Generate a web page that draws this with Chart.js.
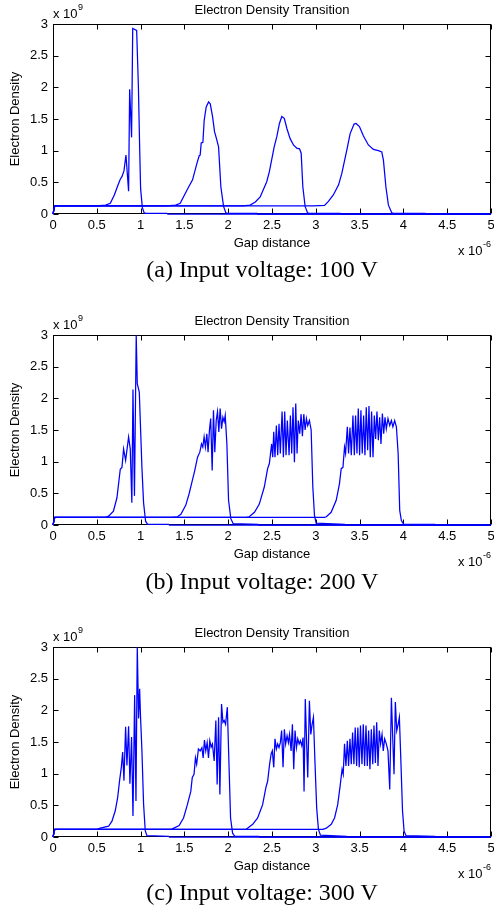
<!DOCTYPE html>
<html>
<head>
<meta charset="utf-8">
<script src="https://cdn.jsdelivr.net/npm/chart.js@4"></script>
<style>
  html, body { margin: 0; padding: 0; background: #fff; }
  body { width: 494px; height: 908px; position: relative; overflow: hidden; }
  .panel { position: absolute; left: 0; width: 494px; height: 260px; }
  .cap { position: absolute; left: 262px; transform: translateX(-50%); white-space: nowrap;
         font-family: "Liberation Serif", "Times New Roman", serif; font-size: 24px; line-height: 26px; color: #000; }
</style>
</head>
<body>
<div class="panel" style="top:0px"><canvas id="c1" width="494" height="260"></canvas></div>
<div class="cap" style="top:256px">(a) Input voltage: 100 V</div>
<div class="panel" style="top:311px"><canvas id="c2" width="494" height="260"></canvas></div>
<div class="cap" style="top:568px">(b) Input voltage: 200 V</div>
<div class="panel" style="top:623px"><canvas id="c3" width="494" height="260"></canvas></div>
<div class="cap" style="top:879px">(c) Input voltage: 300 V</div>
<script>
// ---- axis ticks (x in units of 1e-6, y in units of 1e9) ----
const xTicks = [0, 0.5, 1, 1.5, 2, 2.5, 3, 3.5, 4, 4.5, 5];
const yTicks = [0, 0.5, 1, 1.5, 2, 2.5, 3];
const chartTitle = "Electron Density Transition";
const xTitle = "Gap distance";
const yTitle = "Electron Density";

// ---- 100 V ----
const v100_1x = [0, 0.02, 0.5, 0.6, 0.654, 0.7, 0.74, 0.768, 0.787, 0.81, 0.833, 0.863, 0.875, 0.897, 0.91, 0.955, 0.975, 0.99, 1.0, 1.02, 1.04, 1.06, 1.3, 1.31, 5];
const v100_1y = [0, 0.13, 0.13, 0.14, 0.17, 0.3, 0.45, 0.55, 0.59, 0.68, 0.93, 0.36, 1.97, 1.21, 2.93, 2.9, 2.0, 1.0, 0.4, 0.1, 0.02, 0.01, 0.01, 0, 0];
const v100_2x = [0, 0.02, 1.3, 1.4, 1.452, 1.53, 1.593, 1.643, 1.669, 1.68, 1.692, 1.711, 1.726, 1.749, 1.776, 1.795, 1.821, 1.844, 1.87, 1.89, 1.916, 1.947, 1.973, 1.99, 2.33, 2.34, 5];
const v100_2y = [0, 0.13, 0.13, 0.14, 0.17, 0.38, 0.54, 0.8, 0.92, 0.93, 1.12, 1.13, 1.48, 1.69, 1.77, 1.74, 1.54, 1.3, 1.17, 1.06, 0.43, 0.12, 0.02, 0.01, 0.01, 0, 0];
const v100_3x = [0, 0.02, 2.17, 2.25, 2.31, 2.365, 2.44, 2.47, 2.525, 2.555, 2.585, 2.612, 2.64, 2.67, 2.707, 2.745, 2.783, 2.814, 2.833, 2.852, 2.878, 2.905, 2.93, 3.28, 3.29, 5];
const v100_3y = [0, 0.13, 0.13, 0.14, 0.19, 0.27, 0.51, 0.67, 1.06, 1.22, 1.43, 1.54, 1.51, 1.35, 1.19, 1.09, 1.04, 1.03, 0.96, 0.43, 0.12, 0.02, 0.01, 0.01, 0, 0];
const v100_4x = [0, 0.02, 2.97, 3.1, 3.144, 3.2, 3.26, 3.297, 3.354, 3.392, 3.437, 3.46, 3.498, 3.544, 3.6, 3.658, 3.715, 3.753, 3.772, 3.8, 3.829, 3.867, 3.89, 4.25, 4.26, 5];
const v100_4y = [0, 0.13, 0.13, 0.135, 0.2, 0.3, 0.46, 0.64, 1.01, 1.27, 1.42, 1.43, 1.38, 1.23, 1.09, 1.02, 1.0, 0.98, 0.85, 0.43, 0.14, 0.02, 0.01, 0.01, 0, 0];

// ---- 200 V ----
const v200_1x = [0, 0.02, 0.6, 0.635, 0.69, 0.73, 0.768, 0.787, 0.806, 0.829, 0.863, 0.882, 0.9, 0.913, 0.93, 0.95, 0.962, 0.985, 1.015, 1.034, 1.057, 1.08, 1.32, 1.33, 5];
const v200_1y = [0, 0.12, 0.12, 0.14, 0.22, 0.43, 0.88, 0.91, 1.2, 1.02, 1.39, 1.2, 0.35, 2.14, 0.46, 3.0, 2.23, 2.1, 0.91, 0.35, 0.06, 0.01, 0.01, 0, 0];
const v200_2x = [0, 0.02, 1.35, 1.42, 1.46, 1.515, 1.553, 1.59, 1.618, 1.65, 1.676, 1.695, 1.71, 1.725, 1.74, 1.756, 1.77, 1.786, 1.8, 1.817, 1.832, 1.847, 1.863, 1.878, 1.893, 1.908, 1.924, 1.939, 1.954, 1.966, 1.985, 2.004, 2.03, 2.057, 2.34, 2.35, 5];
const v200_2y = [0, 0.12, 0.12, 0.13, 0.17, 0.31, 0.49, 0.7, 0.86, 1.07, 1.15, 1.28, 1.23, 1.39, 1.23, 1.44, 1.15, 1.5, 1.68, 0.86, 1.81, 1.15, 1.65, 1.79, 1.47, 1.84, 1.52, 1.7, 1.63, 1.73, 1.28, 0.39, 0.1, 0.02, 0.01, 0, 0];
const v200_3x = [0, 0.02, 2.2, 2.24, 2.3, 2.355, 2.412, 2.45, 2.47, 2.496, 2.508, 2.52, 2.534, 2.55, 2.565, 2.58, 2.595, 2.615, 2.63, 2.645, 2.66, 2.675, 2.695, 2.71, 2.725, 2.74, 2.756, 2.771, 2.786, 2.8, 2.817, 2.832, 2.847, 2.863, 2.878, 2.893, 2.908, 2.927, 2.947, 2.966, 2.985, 3.004, 3.33, 3.34, 5];
const v200_3y = [0, 0.12, 0.12, 0.13, 0.2, 0.33, 0.6, 0.89, 0.97, 1.28, 1.07, 1.47, 1.07, 1.57, 1.1, 1.6, 1.13, 1.79, 1.07, 1.79, 1.1, 1.65, 1.1, 1.73, 1.13, 1.86, 0.99, 1.92, 1.13, 1.65, 1.44, 1.75, 1.4, 1.75, 1.5, 1.68, 1.57, 1.65, 1.5, 0.6, 0.15, 0.03, 0.01, 0, 0];
const v200_4x = [0, 0.02, 3.1, 3.12, 3.175, 3.233, 3.27, 3.29, 3.31, 3.328, 3.34, 3.36, 3.374, 3.39, 3.405, 3.424, 3.44, 3.454, 3.47, 3.485, 3.5, 3.515, 3.53, 3.546, 3.561, 3.576, 3.592, 3.607, 3.622, 3.637, 3.653, 3.668, 3.683, 3.698, 3.714, 3.729, 3.744, 3.76, 3.775, 3.79, 3.805, 3.824, 3.844, 3.863, 3.88, 3.9, 3.92, 3.94, 3.958, 3.977, 4.004, 4.36, 4.37, 5];
const v200_4y = [0, 0.12, 0.12, 0.13, 0.2, 0.39, 0.65, 0.89, 0.91, 1.23, 1.13, 1.55, 1.13, 1.54, 1.1, 1.73, 1.1, 1.73, 1.13, 1.84, 1.1, 1.81, 1.13, 1.73, 1.1, 1.86, 1.18, 1.88, 1.07, 1.79, 1.07, 1.73, 1.36, 1.79, 1.34, 1.7, 1.28, 1.76, 1.44, 1.7, 1.52, 1.68, 1.57, 1.65, 1.55, 1.65, 1.55, 1.13, 0.23, 0.07, 0.01, 0.01, 0, 0];

// ---- 300 V ----
const v300_1x = [0, 0.02, 0.5, 0.54, 0.635, 0.673, 0.71, 0.738, 0.76, 0.78, 0.795, 0.81, 0.829, 0.844, 0.863, 0.878, 0.897, 0.913, 0.932, 0.947, 0.962, 0.977, 0.989, 1.0, 1.015, 1.034, 1.053, 1.072, 1.32, 1.33, 5];
const v300_1y = [0, 0.12, 0.12, 0.14, 0.17, 0.25, 0.41, 0.62, 0.89, 1.1, 1.34, 0.89, 1.74, 1.13, 1.75, 0.84, 1.58, 0.33, 2.24, 0.57, 3.0, 1.87, 2.34, 1.87, 1.37, 0.52, 0.1, 0.02, 0.01, 0, 0];
const v300_2x = [0, 0.02, 1.35, 1.38, 1.44, 1.49, 1.534, 1.573, 1.59, 1.61, 1.626, 1.64, 1.66, 1.68, 1.7, 1.714, 1.729, 1.744, 1.76, 1.775, 1.79, 1.805, 1.82, 1.84, 1.859, 1.874, 1.89, 1.905, 1.924, 1.94, 1.954, 1.97, 1.99, 2.01, 2.027, 2.05, 2.076, 2.35, 2.36, 5];
const v300_2y = [0, 0.12, 0.12, 0.14, 0.18, 0.3, 0.51, 0.72, 0.94, 0.99, 1.25, 1.15, 1.39, 1.36, 1.41, 1.25, 1.53, 1.36, 1.49, 1.25, 1.52, 1.42, 1.47, 1.2, 1.84, 0.83, 1.89, 0.67, 2.1, 1.81, 1.84, 1.78, 2.05, 1.1, 0.3, 0.06, 0.01, 0.01, 0, 0];
const v300_3x = [0, 0.02, 2.2, 2.22, 2.28, 2.336, 2.393, 2.43, 2.45, 2.473, 2.49, 2.504, 2.52, 2.534, 2.55, 2.565, 2.58, 2.595, 2.61, 2.626, 2.641, 2.656, 2.672, 2.687, 2.7, 2.718, 2.733, 2.748, 2.763, 2.779, 2.794, 2.81, 2.824, 2.84, 2.855, 2.866, 2.88, 2.897, 2.908, 2.927, 2.943, 2.958, 2.973, 2.99, 3.01, 3.03, 3.053, 3.35, 3.36, 5];
const v300_3y = [0, 0.12, 0.12, 0.14, 0.2, 0.3, 0.51, 0.78, 0.88, 1.15, 1.31, 1.36, 1.1, 1.55, 1.39, 1.47, 1.41, 1.49, 1.68, 1.1, 1.7, 1.47, 1.6, 1.49, 1.62, 1.36, 1.78, 1.07, 1.68, 1.41, 1.55, 1.47, 1.52, 1.44, 1.57, 0.72, 2.18, 1.41, 0.94, 2.15, 1.62, 1.78, 1.89, 1.2, 0.46, 0.12, 0.03, 0.01, 0, 0];
const v300_4x = [0, 0.02, 3.08, 3.12, 3.176, 3.214, 3.25, 3.28, 3.3, 3.313, 3.328, 3.344, 3.36, 3.374, 3.39, 3.405, 3.42, 3.435, 3.45, 3.466, 3.48, 3.496, 3.51, 3.527, 3.542, 3.557, 3.573, 3.588, 3.603, 3.618, 3.634, 3.65, 3.664, 3.68, 3.695, 3.71, 3.725, 3.74, 3.756, 3.77, 3.786, 3.805, 3.824, 3.844, 3.863, 3.878, 3.893, 3.908, 3.924, 3.94, 3.954, 3.97, 3.99, 4.008, 4.03, 4.36, 4.37, 5];
const v300_4y = [0, 0.12, 0.12, 0.14, 0.2, 0.3, 0.51, 0.83, 1.07, 0.99, 1.47, 1.12, 1.52, 1.12, 1.55, 1.15, 1.65, 1.15, 1.73, 1.12, 1.73, 1.1, 1.76, 1.15, 1.78, 1.12, 1.76, 1.12, 1.68, 1.07, 1.7, 1.15, 1.76, 1.17, 1.81, 1.12, 1.68, 1.47, 1.62, 1.36, 1.55, 1.47, 1.36, 0.75, 2.2, 1.57, 0.99, 2.13, 1.68, 1.78, 1.89, 1.25, 0.41, 0.09, 0.02, 0.01, 0, 0];

const panels = [
  { id: 'c1', curves: [[v100_1x, v100_1y], [v100_2x, v100_2y], [v100_3x, v100_3y], [v100_4x, v100_4y]] },
  { id: 'c2', curves: [[v200_1x, v200_1y], [v200_2x, v200_2y], [v200_3x, v200_3y], [v200_4x, v200_4y]] },
  { id: 'c3', curves: [[v300_1x, v300_1y], [v300_2x, v300_2y], [v300_3x, v300_3y], [v300_4x, v300_4y]] },
];

const FONT = '"Liberation Sans", Arial, Helvetica, sans-serif';
Chart.defaults.font.family = FONT;
Chart.defaults.font.size = 13;
Chart.defaults.color = '#000';

const framePlugin = {
  id: 'matlabFrame',
  beforeDatasetsDraw(chart) {
    const { ctx, chartArea: a, scales: { x, y } } = chart;
    const L = Math.round(a.left) + 0.5, R = Math.round(a.right) - 0.5;
    const T = Math.round(a.top) + 0.5, B = Math.round(a.bottom) - 0.5;
    ctx.save();
    ctx.strokeStyle = '#000';
    ctx.lineWidth = 1;
    ctx.strokeRect(L, T, R - L, B - T);
    ctx.beginPath();
    const tl = 5;
    x.ticks.forEach(t => {
      const px = Math.round(x.getPixelForValue(t.value)) + 0.5;
      ctx.moveTo(px, B); ctx.lineTo(px, B - tl);
      ctx.moveTo(px, T); ctx.lineTo(px, T + tl);
    });
    y.ticks.forEach(t => {
      const py = Math.round(y.getPixelForValue(t.value)) + 0.5;
      ctx.moveTo(L, py); ctx.lineTo(L + tl, py);
      ctx.moveTo(R, py); ctx.lineTo(R - tl, py);
    });
    ctx.stroke();
    ctx.restore();
  },
  afterDraw(chart) {
    const { ctx, chartArea: a } = chart;
    ctx.save();
    ctx.fillStyle = '#000';
    ctx.textBaseline = 'alphabetic';
    ctx.textAlign = 'center';
    ctx.font = '13px ' + FONT;
    ctx.fillText(chartTitle, (a.left + a.right) / 2, 13.5);
    ctx.textAlign = 'left';
    ctx.fillText('x 10', a.left, 17.5);
    const w1 = ctx.measureText('x 10').width;
    ctx.font = '9px ' + FONT;
    ctx.fillText('9', a.left + w1 + 0.5, 9.5);
    ctx.font = '13px ' + FONT;
    ctx.fillText('x 10', 458, 254.5);
    const w2 = ctx.measureText('x 10').width;
    ctx.font = '9px ' + FONT;
    ctx.fillText('-6', 458 + w2 + 0.5, 246.5);
    ctx.restore();
  }
};

const fmt = v => String(Math.round(v * 10) / 10);

panels.forEach(p => {
  const datasets = p.curves.map(([xs, ys]) => ({
    data: xs.map((xv, i) => ({ x: xv, y: ys[i] })),
    showLine: true,
    borderColor: '#0000ff',
    backgroundColor: '#0000ff',
    borderWidth: 1.25,
    pointRadius: 0,
    tension: 0,
    fill: false,
    clip: 2
  }));
  new Chart(document.getElementById(p.id), {
    type: 'scatter',
    data: { datasets },
    plugins: [framePlugin],
    options: {
      responsive: false,
      animation: false,
      devicePixelRatio: 1,
      layout: { padding: { top: 24, right: 3, left: 0, bottom: 0 } },
      plugins: { legend: { display: false }, tooltip: { enabled: false }, title: { display: false } },
      scales: {
        x: {
          type: 'linear', min: 0, max: 5,
          afterBuildTicks: s => { s.ticks = xTicks.map(v => ({ value: v })); },
          ticks: { autoSkip: false, maxRotation: 0, minRotation: 0, padding: 4, font: { size: 13 }, callback: fmt },
          grid: { display: false, drawTicks: false },
          border: { display: false },
          title: { display: true, text: xTitle, font: { size: 13 }, padding: { top: 0, bottom: 9 } },
          afterFit: s => { s.height = 46; s.paddingLeft = 0; s.paddingRight = 0; }
        },
        y: {
          type: 'linear', min: 0, max: 3,
          afterBuildTicks: s => { s.ticks = yTicks.map(v => ({ value: v })); },
          ticks: { autoSkip: false, padding: 5, font: { size: 13 }, callback: fmt },
          grid: { display: false, drawTicks: false },
          border: { display: false },
          title: { display: true, text: yTitle, font: { size: 13 }, padding: { top: 8, bottom: 0 } },
          afterFit: s => { s.width = 53; s.paddingTop = 0; s.paddingBottom = 0; }
        }
      }
    }
  });
});
</script>
</body>
</html>
